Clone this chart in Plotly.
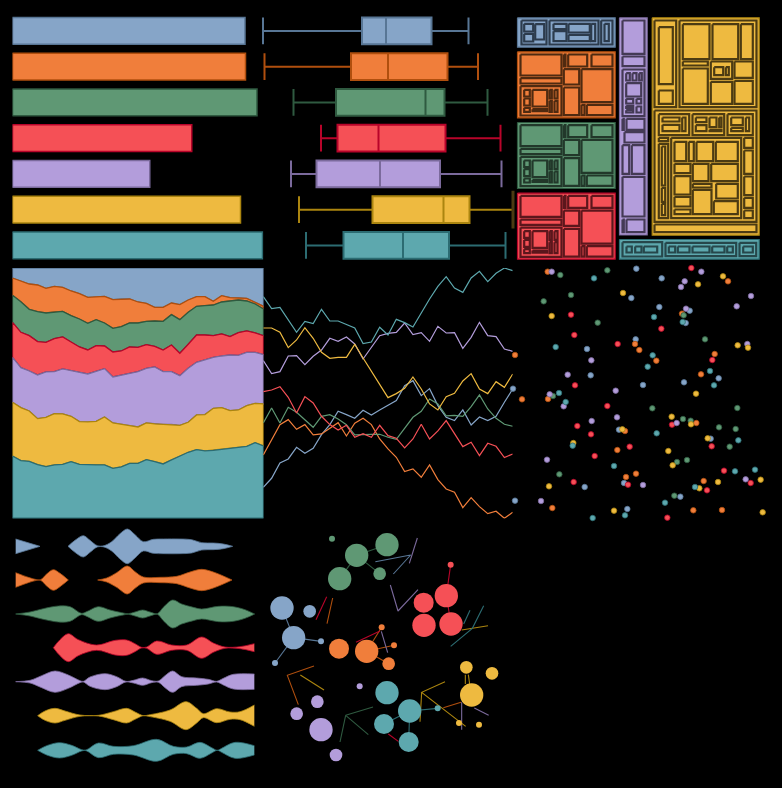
import plotly.graph_objects as go

W, H = 782, 788
names = ["Blue", "Orange", "Green", "Red", "Purple", "Yellow", "Teal"]
fills = ["#86a5c8", "#f07e3b", "#5f9874", "#f55056", "#b39ddb", "#eeba40", "#5da8ae"]
strokes = ["#587695", "#b04f0e", "#2f5a40", "#b8042a", "#7b6a9c", "#ab850f", "#2c6c72"]
darks = ["#2c3b4c", "#4f2a10", "#22382a", "#5c161c", "#443a55", "#4c3b12", "#26474b"]

# horizontal bars
bar_values = [93.0, 93.2, 97.8, 71.7, 54.9, 91.2, 100.0]

# box plot statistics
box_low = [3, 4.5, 33.5, 61, 31, 39, 46]
box_q1 = [102, 91, 76, 77.5, 56.5, 112.5, 83.5]
box_med = [126, 128, 165.5, 118.5, 120, 183.5, 143]
box_q3 = [171.5, 187.5, 184.5, 185.5, 180, 209.5, 189]
box_high = [208.5, 218, 227.5, 240.5, 241.5, 253, 245.5]

# treemap cells (x0, y0, x1, y1)
tm_blue_outer = [(517, 17.3, 614.7, 46.7)]
tm_orange_outer = [(517, 51.3, 614.7, 117.3)]
tm_green_outer = [(517, 122, 614.7, 188)]
tm_red_outer = [(517, 192.7, 614.7, 258.7)]
tm_purple_outer = [(619, 17.3, 646.7, 234.5)]
tm_yellow_outer = [(651.7, 17.3, 758.7, 234.7)]
tm_teal_outer = [(619, 239, 758.7, 258.7)]
tm_blue = [(521, 20, 546, 44), (523.7, 23.3, 532.7, 31), (523.7, 33.3, 532.7, 41), (534.7, 23.7, 543.7, 39),
           (549, 20, 598, 44), (553, 23.3, 566, 28.7), (553, 30.7, 566, 40.7), (568, 23.3, 589.3, 32),
           (568, 34.3, 589.3, 40.7), (590.7, 23.3, 594.7, 40.7), (600.7, 20, 612, 44), (604, 23.3, 608.3, 40.7)]
tm_orange = [(520, 54, 561, 75), (520, 77.7, 561, 83), (520, 85.7, 561, 115), (523.7, 89.3, 529.3, 96),
             (523.7, 98, 529.3, 105), (523.7, 107.3, 529.3, 111.3), (532, 89.3, 546.7, 106),
             (532, 108.7, 546.7, 110.7), (549, 89.3, 551.3, 98), (554, 89.3, 557, 98), (549, 100.3, 551.3, 111.3),
             (554, 100.3, 557, 111.3), (563.3, 54, 565, 66), (567.7, 54, 586.7, 66), (591, 54, 612, 66),
             (563.3, 68.7, 578.7, 84), (581, 68.7, 612, 101.7), (563.3, 87, 578.7, 114.7), (581, 104.3, 584, 114.7),
             (586.3, 104.3, 612, 114.7)]
tm_green_shift = 70.7
tm_red_shift = 141.4
tm_purple = [(622, 20, 644, 53.3), (622, 56, 644, 65.7), (622, 69, 644, 115.7), (625.7, 72.7, 629.3, 80),
             (632, 72.7, 636, 80), (638.7, 72.7, 641.3, 80), (625.7, 82.7, 640.7, 96), (625.7, 98.3, 632.7, 103),
             (636, 98.3, 640.7, 103), (625.7, 105.3, 632.7, 107.3), (625.7, 109.7, 632.7, 112),
             (636, 106, 640.7, 112), (622, 118.3, 623.3, 129.3), (626, 118.3, 644, 129.3), (624, 131.7, 644, 142),
             (622, 144.7, 628.7, 173.3), (631.3, 144.7, 644, 173.3), (622, 176.3, 644, 216),
             (622, 219, 623.3, 231.7), (626, 219, 644, 231.7)]
tm_yellow = [(654, 20, 675.7, 106.7), (658.3, 26.7, 672.3, 83.7), (658.3, 90, 672.3, 103.3), (679, 20, 756, 106.7),
             (682.3, 23.7, 709, 58.7), (712, 23.7, 737.7, 58.7), (740.3, 23.7, 752.3, 58.7), (682.3, 61, 707.3, 65),
             (682.3, 68, 707.3, 103.3), (710.3, 61, 731.7, 78.3), (713.7, 66.7, 722.7, 74.7),
             (725.3, 66.7, 728.3, 74.7), (734, 61, 752.3, 77.3), (710.3, 81.3, 731.7, 103.3),
             (734, 80.3, 752.3, 103.3), (654, 110, 756, 221.3), (658.3, 113.7, 688.7, 134.7), (662, 117, 679, 121),
             (662, 124.3, 679, 130.7), (681.7, 117, 685, 130.7), (692, 113.7, 723.7, 134.7),
             (695.3, 117, 706, 121.7), (695.3, 124.7, 706, 130.7), (709, 117, 716, 126.7), (718.7, 117, 721, 126.7),
             (709, 129.3, 721, 130.7), (727, 113.7, 752.3, 134.7), (730.7, 117, 742.3, 124.7),
             (730.7, 127.3, 742.3, 130.7), (745.3, 117, 748.7, 130.7), (658.3, 137.3, 667.7, 140.7),
             (658.3, 143.3, 667.7, 217.7), (661.3, 146, 664.7, 185), (661.3, 187.3, 664.7, 201.3),
             (661.3, 203.3, 664.7, 214.7), (670.7, 137.3, 740.7, 217.7), (674, 141.3, 685.7, 160.7),
             (688.3, 141.3, 693.3, 160.7), (696, 141.3, 712.7, 160.7), (715.3, 141.3, 737.3, 160.7),
             (674, 163.3, 690, 172.7), (674, 175.7, 690, 194), (674, 196.3, 690, 206), (674, 209, 690, 213.7),
             (692.3, 163.3, 708, 180.7), (692.3, 183.3, 711, 187), (692.3, 189.3, 711, 213.7),
             (710.7, 163.3, 737.3, 180.7), (715.7, 183.3, 737.3, 198), (713.3, 200.7, 737.3, 213.7),
             (743.7, 137.3, 752.3, 147.3), (743.7, 150, 752.3, 173.3), (743.7, 176, 752.3, 194.7),
             (743.7, 197.3, 752.3, 207.3), (743.7, 210, 752.3, 217.7), (654, 224, 756, 231.7)]
tm_teal = [(622, 241.7, 661.7, 256), (626, 246, 631.3, 252), (634.7, 246, 641, 252), (643.3, 246, 656.7, 252),
           (665, 242.3, 735.7, 255.7), (668.3, 246, 674.7, 252), (677.3, 246, 689, 252), (692, 246, 709, 252),
           (711.7, 246, 724, 252), (726.7, 246, 732.3, 252), (739, 242.3, 755.7, 255.7), (742.7, 246, 752.3, 252)]

# stacked area: upper edge of each band, top to bottom
area_frame_top = [17] * 31
area_orange = [47, 55, 65, 68, 78, 72, 75, 86, 94, 105, 104, 102, 112, 110, 110, 119, 123, 135, 135, 122, 127, 113, 103, 103, 117, 100, 106, 107, 108, 120, 132]
area_green = [99, 118, 141, 148, 152, 149, 147, 160, 170, 183, 172, 182, 198, 193, 182, 182, 177, 176, 177, 157, 172, 150, 132, 130, 128, 119, 116, 113, 116, 125, 140]
area_red = [180, 210, 220, 238, 240, 229, 224, 240, 254, 263, 250, 251, 269, 266, 254, 255, 247, 252, 263, 248, 273, 246, 218, 218, 220, 215, 223, 211, 206, 212, 220]
area_purple = [285, 316, 326, 338, 329, 328, 320, 325, 330, 335, 327, 319, 344, 338, 333, 328, 318, 314, 328, 328, 340, 318, 300, 293, 285, 281, 278, 279, 270, 270, 277]
area_yellow = [420, 436, 446, 469, 465, 454, 455, 462, 478, 479, 477, 464, 482, 487, 490, 494, 482, 485, 486, 486, 489, 480, 458, 457, 438, 436, 445, 443, 430, 423, 425]
area_teal = [581, 595, 597, 607, 613, 608, 606, 598, 606, 608, 608, 608, 618, 614, 603, 603, 592, 598, 605, 593, 582, 570, 562, 566, 564, 561, 556, 555, 552, 541, 551]
area_frame_bottom = [768] * 31

# line series
line_teal = [103, 139, 135, 172, 210, 177, 184, 141, 176, 176, 187, 197, 244, 239, 195, 218, 171, 181, 194, 150, 110, 72, 43, 77, 90, 47, 27, 58, 33, 17, 25]
line_purple = [295, 334, 328, 281, 280, 307, 282, 263, 228, 237, 224, 245, 290, 255, 220, 213, 210, 182, 217, 211, 237, 192, 212, 211, 258, 225, 180, 220, 223, 260, 267]
line_yellow = [197, 197, 210, 256, 233, 196, 228, 270, 288, 285, 285, 246, 287, 327, 367, 406, 394, 378, 344, 380, 425, 443, 403, 393, 356, 334, 380, 394, 358, 375, 335]
line_blue = [675, 648, 602, 590, 555, 573, 558, 517, 487, 447, 457, 468, 444, 458, 443, 430, 415, 370, 355, 400, 379, 430, 465, 475, 443, 488, 464, 475, 462, 420, 380]
line_green = [482, 437, 482, 435, 450, 473, 495, 462, 457, 470, 487, 518, 516, 516, 516, 525, 531, 498, 465, 447, 410, 425, 461, 459, 462, 433, 398, 440, 468, 486, 492]
line_red = [388, 383, 373, 405, 452, 403, 422, 462, 487, 503, 489, 525, 514, 525, 489, 520, 528, 557, 530, 486, 530, 506, 475, 515, 553, 540, 580, 543, 552, 586, 575]
line_orange = [578, 533, 487, 472, 501, 487, 518, 515, 497, 481, 521, 483, 468, 487, 530, 560, 585, 628, 620, 645, 608, 652, 680, 690, 736, 706, 733, 754, 747, 768, 750]

# scatter points
pts_blue = [(364, 20), (440, 49), (349, 108), (433, 135), (524, 146), (512, 183), (362, 232), (216, 261), (227, 340), (384, 369), (507, 361), (611, 349), (-6, 380), (312, 503), (587, 530), (327, 663), (209, 675), (0, 716), (496, 704), (337, 741)]
pts_orange = [(98, 29), (639, 58), (501, 155), (0, 279), (360, 246), (373, 264), (424, 296), (599, 276), (558, 337), (21, 412), (99, 411), (330, 507), (544, 483), (307, 564), (333, 645), (363, 635), (566, 657), (112, 738), (535, 745), (621, 744)]
pts_green = [(136, 39), (277, 25), (168, 99), (86, 118), (248, 182), (506, 160), (570, 232), (114, 402), (412, 439), (504, 471), (527, 476), (667, 438), (612, 496), (662, 501), (644, 554), (486, 600), (516, 594), (133, 637), (478, 701)]
pts_red = [(529, 18), (168, 158), (178, 219), (308, 246), (439, 200), (592, 294), (180, 370), (277, 432), (187, 492), (228, 517), (471, 488), (344, 554), (239, 582), (590, 553), (627, 626), (176, 660), (339, 668), (707, 663), (576, 685), (457, 767)]
pts_purple = [(110, 29), (559, 29), (509, 58), (498, 75), (708, 102), (665, 133), (513, 140), (697, 246), (229, 295), (158, 338), (302, 386), (104, 397), (146, 433), (306, 466), (230, 477), (485, 483), (96, 593), (692, 652), (384, 669), (78, 717)]
pts_yellow = [(624, 43), (549, 67), (324, 93), (110, 162), (668, 250), (699, 257), (543, 395), (470, 464), (528, 487), (322, 502), (578, 529), (175, 543), (460, 567), (473, 610), (102, 673), (609, 660), (553, 679), (737, 653), (297, 746), (743, 751)]
pts_teal = [(237, 49), (417, 165), (503, 180), (122, 255), (413, 280), (398, 314), (585, 327), (597, 370), (132, 393), (152, 420), (425, 514), (173, 551), (670, 535), (297, 612), (660, 628), (720, 623), (540, 675), (450, 722), (330, 760), (233, 768)]

# density profiles: (position, half width), one list per contiguous run
vio_rows = [67, 168, 270, 371, 473, 575, 679]
vio_blue = [[(47, 22), (120, 0)],
            [(204, 0), (225, 18), (250, 32), (270, 18), (292, 2), (312, 2), (335, 14), (360, 38), (382, 52), (405, 35), (430, 14), (460, 21), (490, 22), (540, 22), (575, 20), (605, 11), (640, 10), (670, 7), (698, 0)]]
vio_orange = [[(47, 22), (85, 8), (110, 1), (122, 1), (140, 18), (160, 31), (180, 20), (205, 0)],
              [(293, 0), (320, 6), (350, 22), (382, 42), (405, 25), (430, 9), (480, 8), (530, 11), (570, 24), (605, 32), (640, 24), (670, 12), (696, 0)]]
vio_green = [[(47, 0), (90, 6), (130, 16), (175, 24), (210, 22), (245, 2), (262, 8), (295, 22), (330, 12), (365, 4), (385, 1), (405, 6), (428, 12), (450, 6), (472, 1), (490, 20), (518, 42), (545, 30), (580, 20), (605, 15), (655, 23), (700, 22), (735, 13), (764, 0)]]
vio_red = [[(160, 0), (180, 24), (205, 42), (235, 24), (290, 8), (345, 22), (380, 23), (405, 12), (425, 1), (440, 2), (470, 20), (515, 8), (560, 8), (605, 32), (640, 14), (675, 2), (720, 3), (763, 12)]]
vio_purple = [[(47, 0), (90, 4), (125, 18), (165, 32), (205, 20), (240, 3), (250, 1), (270, 14), (315, 24), (350, 15), (378, 1), (400, 4), (428, 11), (455, 3), (475, 2), (495, 18), (518, 32), (545, 15), (590, 11), (625, 7), (650, 1), (670, 10), (700, 22), (763, 23)]]
vio_yellow = [[(113, 0), (135, 14), (165, 22), (195, 14), (240, 2), (295, 1), (340, 12), (380, 22), (405, 11), (430, 0), (445, 2), (510, 17), (558, 42), (590, 22), (610, 6), (650, 21), (690, 11), (720, 12), (763, 32)]]
vio_teal = [[(113, 0), (140, 14), (178, 23), (215, 15), (245, 2), (258, 1), (295, 22), (340, 12), (400, 14), (470, 33), (520, 12), (560, 10), (600, 24), (635, 8), (652, 0), (665, 6), (705, 24), (763, 14)]]

# network nodes (x, y, radius)
net_blue = [(51, 252, 35), (86, 341, 35), (134, 262, 19), (168, 352, 9), (30, 417, 9)]
net_orange = [(222, 374, 30), (305, 382, 35), (371, 419, 19), (350, 310, 9), (387, 364, 9)]
net_green = [(366, 62, 35), (275, 94, 35), (224, 164, 35), (344, 149, 19), (201, 44, 9)]
net_red = [(544, 215, 35), (476, 236, 30), (477, 304, 35), (558, 300, 35), (557, 122, 9)]
net_purple = [(168, 617, 35), (157, 533, 19), (95, 569, 19), (213, 693, 19), (284, 487, 9)]
net_yellow = [(620, 513, 35), (604, 430, 19), (681, 448, 19), (582, 597, 9), (642, 602, 9)]
net_teal = [(366, 506, 35), (434, 561, 35), (357, 600, 30), (431, 654, 30), (518, 553, 9)]

# network links, drawn in the stroke colour of the same index
links_blue = [[(86, 341), (51, 252)], [(86, 341), (168, 352)], [(86, 341), (30, 417)], [(385, 150), (437, 93), (331, 113)]]
links_orange = [[(305, 382), (350, 310)], [(305, 382), (387, 364)], [(305, 382), (371, 419)], [(147, 426), (67, 454), (100, 542)], [(203, 222), (186, 299)], [(588, 535), (535, 551)]]
links_green = [[(275, 94), (366, 62)], [(275, 94), (344, 149)], [(275, 94), (224, 164)], [(324, 549), (242, 574), (310, 632)], [(242, 574), (225, 654)]]
links_red = [[(544, 215), (557, 122)], [(544, 215), (558, 300)], [(185, 218), (153, 287)], [(273, 355), (345, 321)], [(370, 630), (400, 652)]]
links_purple = [[(457, 42), (433, 118)], [(376, 183), (399, 261), (459, 197)], [(349, 322), (368, 386)], [(590, 535), (590, 617)], [(628, 552), (671, 574)]]
links_yellow = [[(601, 452), (601, 480)], [(610, 452), (614, 480)], [(540, 473), (470, 505), (602, 607)], [(470, 505), (465, 593)], [(106, 453), (177, 498)], [(590, 318), (669, 305)]]
links_teal = [[(434, 561), (518, 553)], [(434, 561), (431, 654)], [(434, 561), (357, 600)], [(615, 259), (596, 300)], [(656, 245), (622, 313), (557, 367)]]

fig = go.Figure()
axis_count = 0


def panel(px0, py0, px1, py1, xr, yr, **yextra):
    global axis_count
    axis_count += 1
    s = "" if axis_count == 1 else str(axis_count)
    fig.layout["xaxis" + s] = dict(domain=[px0 / W, px1 / W], range=xr, visible=False, anchor="y" + s, fixedrange=True)
    fig.layout["yaxis" + s] = dict(domain=[1 - py1 / H, 1 - py0 / H], range=yr, visible=False, anchor="x" + s, fixedrange=True, **yextra)
    return ("x" + s, "y" + s)


row_y = dict(type="category", categoryorder="array", categoryarray=names)

# bars
xa, ya = panel(12.5, 13, 263.5, 263.3, [0, 100.4], [6.5, -0.5], **row_y)
fig.add_trace(go.Bar(x=bar_values, y=names, orientation="h", width=0.75, xaxis=xa, yaxis=ya,
                     marker=dict(color=fills, line=dict(color=strokes, width=1.5))))

# boxes
xa, ya = panel(260, 13, 516, 263.3, [0, 256], [6.5, -0.5], **row_y)
for i, n in enumerate(names):
    fig.add_trace(go.Box(y=[n], q1=[box_q1[i]], median=[box_med[i]], q3=[box_q3[i]],
                         lowerfence=[box_low[i]], upperfence=[box_high[i]], orientation="h",
                         width=0.75, whiskerwidth=1, fillcolor=fills[i], boxpoints=False,
                         line=dict(color=strokes[i], width=2), xaxis=xa, yaxis=ya))
fig.add_trace(go.Scatter(x=[box_high[5]], y=[names[5]], mode="markers", xaxis=xa, yaxis=ya,
                         marker=dict(symbol="line-ns", size=27, line=dict(color=darks[5], width=3))))

# treemap


def rect_path(rects, dy=0):
    xs, ys = [], []
    for x0, y0, x1, y1 in rects:
        xs += [x0, x1, x1, x0, x0, None]
        ys += [y0 + dy, y0 + dy, y1 + dy, y1 + dy, y0 + dy, None]
    return xs, ys


xa, ya = panel(510.5, 10.5, 770.5, 265.5, [510, 770], [265, 10])
tm_groups = [(tm_blue_outer, tm_blue, 0), (tm_orange_outer, tm_orange, 0), (tm_green_outer, tm_orange, tm_green_shift),
             (tm_red_outer, tm_orange, tm_red_shift), (tm_purple_outer, tm_purple, 0), (tm_yellow_outer, tm_yellow, 0),
             (tm_teal_outer, tm_teal, 0)]
for i, (outer, inner, shift) in enumerate(tm_groups):
    ox, oy = rect_path(outer)
    fig.add_trace(go.Scatter(x=ox, y=oy, mode="lines", fill="toself", fillcolor=fills[i], xaxis=xa, yaxis=ya,
                             line=dict(color=strokes[i], width=1.2, simplify=False)))
    ix, iy = rect_path(inner, shift)
    fig.add_trace(go.Scatter(x=ix, y=iy, mode="lines", xaxis=xa, yaxis=ya,
                             line=dict(color=darks[i], width=2.2, simplify=False)))

# stacked area
xa, ya = panel(12.5, 268, 263.5, 518.6, [0, 30], [769, 17])
edges = [area_frame_top, area_orange, area_green, area_red, area_purple, area_yellow, area_teal, area_frame_bottom]
steps = list(range(31))
for i in range(7):
    fig.add_trace(go.Scatter(x=steps + steps[::-1] + [0], y=edges[i] + edges[i + 1][::-1] + [edges[i][0]],
                             mode="lines", fill="toself", fillcolor=fills[i], xaxis=xa, yaxis=ya,
                             line=dict(color=strokes[i], width=1.3)))

# lines
xa, ya = panel(263.3, 268, 512.7, 518.6, [0, 30], [769, 17])
for i, s in enumerate([line_blue, line_orange, line_green, line_red, line_purple, line_yellow, line_teal]):
    fig.add_trace(go.Scatter(x=steps, y=s, mode="lines", xaxis=xa, yaxis=ya, cliponaxis=False,
                             line=dict(color=fills[i], width=1.2)))

# scatter
xa, ya = panel(505, 262, 775, 524, [-30, 780], [786, 0])
for i, p in enumerate([pts_blue, pts_orange, pts_green, pts_red, pts_purple, pts_yellow, pts_teal]):
    fig.add_trace(go.Scatter(x=[a for a, _ in p], y=[b for _, b in p], mode="markers", xaxis=xa, yaxis=ya,
                             cliponaxis=False,
                             marker=dict(size=5.5, color=fills[i], line=dict(color=strokes[i], width=0.8))))

# density shapes: lower edge, then upper edge filled down to it
xa, ya = panel(0, 524, 265, 774, [0, 795], [750, 0])
for i, runs in enumerate([vio_blue, vio_orange, vio_green, vio_red, vio_purple, vio_yellow, vio_teal]):
    for run in runs:
        px = [a for a, _ in run]
        up = [vio_rows[i] - w for _, w in run]
        lo = [vio_rows[i] + w for _, w in run]
        edge = dict(color=strokes[i], width=0.8, shape="spline", smoothing=1)
        fig.add_trace(go.Scatter(x=px, y=lo, mode="lines", xaxis=xa, yaxis=ya, line=edge))
        fig.add_trace(go.Scatter(x=px, y=up, mode="lines", fill="tonexty", fillcolor=fills[i], xaxis=xa, yaxis=ya,
                                 line=edge))

# network
xa, ya = panel(265, 524, 515, 774, [0, 750], [750, 0])
for i, group in enumerate([links_blue, links_orange, links_green, links_red, links_purple, links_yellow, links_teal]):
    lx, ly = [], []
    for path in group:
        lx += [a for a, _ in path] + [None]
        ly += [b for _, b in path] + [None]
    fig.add_trace(go.Scatter(x=lx, y=ly, mode="lines", xaxis=xa, yaxis=ya, line=dict(color=strokes[i], width=1.1)))
for i, nodes in enumerate([net_blue, net_orange, net_green, net_red, net_purple, net_yellow, net_teal]):
    fig.add_trace(go.Scatter(x=[n[0] for n in nodes], y=[n[1] for n in nodes], mode="markers", xaxis=xa, yaxis=ya,
                             marker=dict(size=[n[2] * 2 / 3 for n in nodes], color=fills[i], opacity=1, line=dict(width=0))))

fig.update_layout(width=W, height=H, autosize=False, margin=dict(l=0, r=0, t=0, b=0), showlegend=False,
                  paper_bgcolor="#000000", plot_bgcolor="rgba(0,0,0,0)", boxmode="overlay", hovermode=False)
fig.write_html("out.html", config={"displayModeBar": False},
               post_script="document.body.style.margin='0';document.body.style.background='#000';")
